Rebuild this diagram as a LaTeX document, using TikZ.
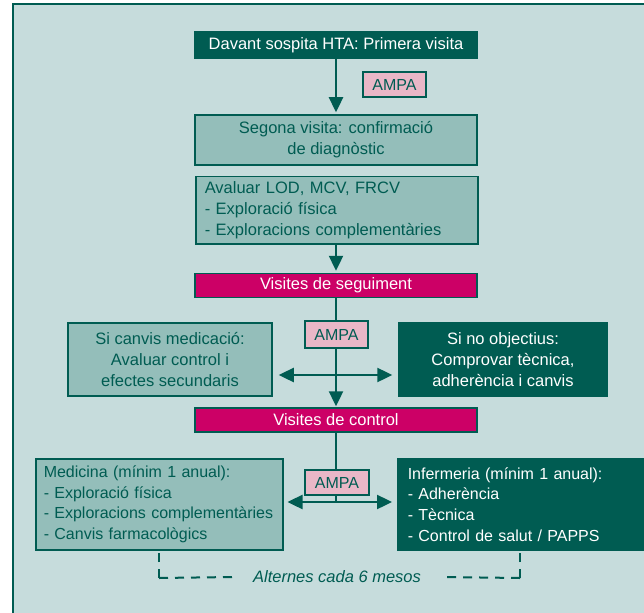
\documentclass[tikz,border=0pt]{standalone}
\usepackage{fontspec}
\setmainfont{Liberation Sans}
\usetikzlibrary{arrows.meta}
\definecolor{bgteal}{RGB}{198,220,220}
\definecolor{darkteal}{RGB}{0,92,82}
\definecolor{midteal}{RGB}{148,190,186}
\definecolor{magentabar}{RGB}{204,0,102}
\definecolor{pinktag}{RGB}{233,183,199}
\begin{document}
\begin{tikzpicture}[x=1pt,y=-1pt,
  base/.style={font=\fontsize{16.5}{21}\selectfont, inner sep=0pt,
    line width=1.5pt, draw=darkteal},
  darkbox/.style={base, fill=darkteal, text=white},
  midbox/.style={base, fill=midteal, text=darkteal},
  barbox/.style={base, fill=magentabar, text=white},
  tagbox/.style={base, fill=pinktag, text=darkteal, font=\fontsize{16}{19}\selectfont},
  flow/.style={line width=2.4pt, draw=darkteal, -{Triangle[length=15pt,width=14pt]}},
  both/.style={line width=2.4pt, draw=darkteal,
    {Triangle[length=15pt,width=14pt]}-{Triangle[length=15pt,width=14pt]}},
  link/.style={line width=2.4pt, draw=darkteal},
  bracket/.style={line width=2pt, draw=darkteal, dash pattern=on 9pt off 7pt}
]
\useasboundingbox (0,0) rectangle (644,612);
\clip (0,0) rectangle (644,612);
\fill[white] (0,0) rectangle (644,612);
\draw[line width=2pt, draw=darkteal, fill=bgteal] (13,4.5) rectangle (700,700);

% first visit and diagnosis
\node[darkbox, minimum width=282pt, minimum height=26pt] (b1) at (336,45)
  {Davant sospita HTA: Primera visita};
\node[midbox, minimum width=282pt, minimum height=50pt, align=center] (b2) at (336,140)
  {Segona visita: confirmació\\de diagnòstic};
\node[midbox, minimum width=282pt, minimum height=67pt, anchor=north west,
  align=left, text width=264pt] (b3) at (195,176)
  {Avaluar LOD, MCV, FRCV\\- Exploració física\\- Exploracions complementàries};
\node[barbox, minimum width=282pt, minimum height=24pt] (seg) at (336,285.5)
  {Visites de seguiment};

% follow-up branches
\node[midbox, minimum width=204pt, minimum height=73pt, align=center] (lc) at (170,359.5)
  {Si canvis medicació:\\Avaluar control i\\efectes secundaris};
\node[darkbox, minimum width=208pt, minimum height=73pt, align=center] (rc) at (503,359.5)
  {Si no objectius:\\Comprovar tècnica,\\adherència i canvis};
\node[barbox, minimum width=282pt, minimum height=24pt] (ctl) at (336,420)
  {Visites de control};

% control visits
\node[midbox, minimum width=247pt, minimum height=91pt, anchor=north west,
  align=left, text width=231pt, font=\fontsize{16}{20.7}\selectfont] (med) at (35,458)
  {Medicina (mínim 1 anual):\\- Exploració física\\- Exploracions complementàries\\- Canvis farmacològics};
\node[darkbox, minimum width=268pt, minimum height=91pt, anchor=north west,
  align=left, text width=248pt, font=\fontsize{16}{20.7}\selectfont] (inf) at (397,458)
  {Infermeria (mínim 1 anual):\\- Adherència\\- Tècnica\\- Control de salut / PAPPS};
\node[font=\fontsize{16.5}{20}\itshape, text=darkteal, inner xsep=20pt, inner ysep=0pt]
  (alt) at (337,577) {Alternes cada 6 mesos};

\coordinate (j1) at (336,375);
\coordinate (j2) at (336,502);
\coordinate (bl) at (159,578);
\coordinate (br) at (520,578);

% connectors
\draw[flow, shorten >=2pt] (b1.south) -- (b2.north);
\draw[flow, shorten >=2pt] (b3.south -| seg) -- (seg.north);
\draw[flow, shorten >=1pt] (seg.south) -- (ctl.north);
\draw[both, shorten <=6pt, shorten >=6pt] (lc.east |- j1) -- (rc.west |- j1);
\draw[link] (ctl.south) -- (j2);
\draw[both, shorten <=4pt, shorten >=5pt] (med.east |- j2) -- (inf.west |- j2);
\draw[bracket] (bl) -- (med.south -| bl);
\draw[bracket] (bl) -- (alt.west);
\draw[bracket] (br) -- (inf.south -| br);
\draw[bracket] (br) -- (alt.east);

% AMPA tags sit on top of the connectors
\node[tagbox, minimum width=63pt, minimum height=25pt] (a1) at (394.5,84.5) {AMPA};
\node[tagbox, minimum width=63pt, minimum height=27pt] (a2) at (336.5,334.5) {AMPA};
\node[tagbox, minimum width=64pt, minimum height=25pt] (a3) at (337,482.5) {AMPA};
\end{tikzpicture}
\end{document}
